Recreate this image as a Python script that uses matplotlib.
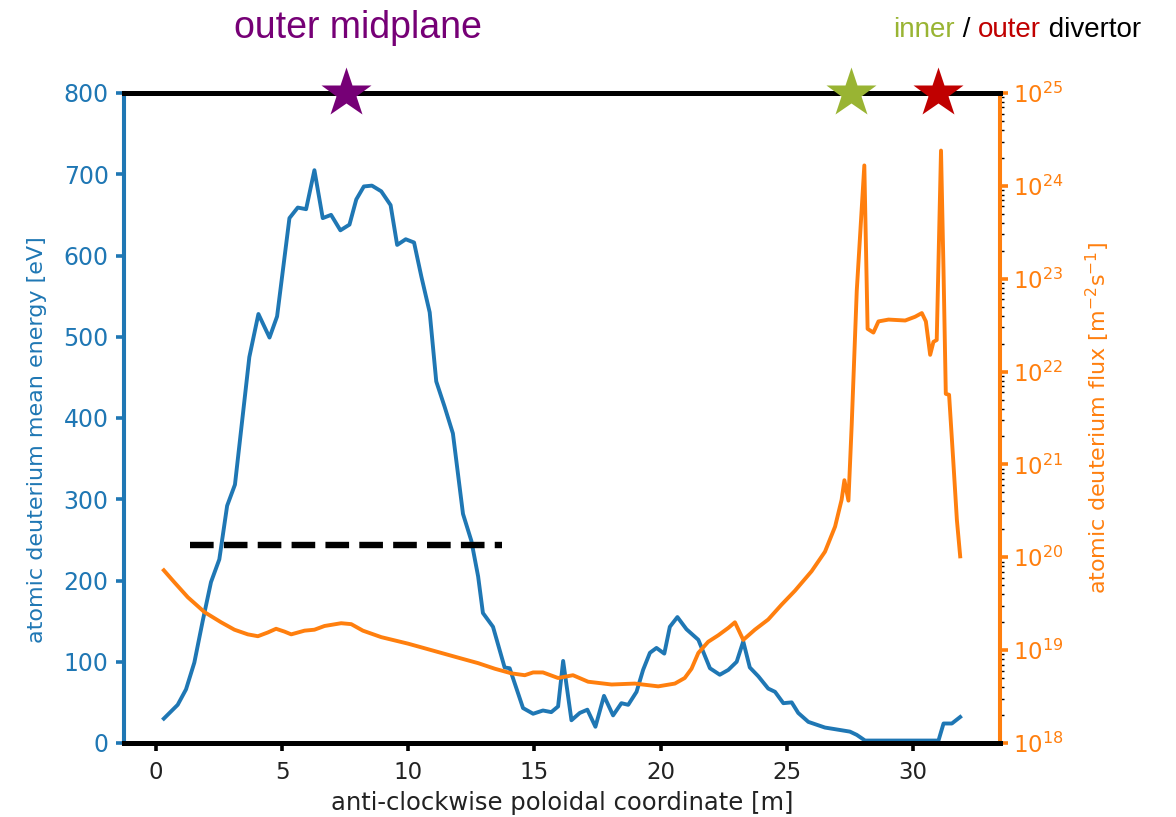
import numpy as np
import matplotlib
matplotlib.use("Agg")
import matplotlib.pyplot as plt
from matplotlib.ticker import LogLocator, NullFormatter

plt.rcParams["font.family"] = ["DejaVu Sans"]

# Mean energy of atomic deuterium along the wall [eV]
energy_s = [0.31, 0.86, 1.19, 1.52, 1.85, 2.18, 2.51, 2.82, 3.13, 3.70, 4.06, 4.50,
            4.80, 5.29, 5.62, 5.95, 6.28, 6.61, 6.94, 7.31, 7.67, 7.94, 8.24, 8.56,
            8.93, 9.30, 9.56, 9.90, 10.23, 10.52, 10.85, 11.11, 11.44, 11.77, 12.17,
            12.50, 12.77, 12.96, 13.36, 13.82, 14.02, 14.55, 14.95, 15.34, 15.67,
            15.94, 16.14, 16.47, 16.80, 17.10, 17.42, 17.76, 18.12, 18.45, 18.72,
            19.05, 19.31, 19.58, 19.84, 20.15, 20.37, 20.67, 21.03, 21.50, 21.96,
            22.35, 22.69, 23.02, 23.28, 23.54, 23.88, 24.27, 24.54, 24.87, 25.20,
            25.46, 25.86, 26.52, 26.92, 27.51, 27.78, 28.11, 31.02, 31.22, 31.55, 31.88]
energy_eV = [30, 47, 66, 99, 150, 198, 226, 292, 318, 475, 528, 499,
             525, 646, 659, 657, 705, 646, 650, 631, 638, 669, 685, 686,
             679, 662, 613, 620, 616, 574, 530, 445, 414, 381, 282,
             249, 205, 160, 143, 93, 92, 43, 36, 40, 38,
             45, 101, 28, 37, 41, 20, 58, 34, 49, 47,
             63, 90, 111, 117, 110, 143, 155, 140, 127, 92,
             84, 90, 100, 125, 93, 82, 67, 63, 49, 50,
             37, 26, 19, 17, 14, 10, 3, 3, 24, 24, 32]

# Atomic deuterium flux along the wall, log10 of [m^-2 s^-1]
flux_s = [0.31, 0.73, 1.26, 1.92, 2.58, 3.11, 3.64, 4.04, 4.43, 4.76, 5.09, 5.36,
          5.89, 6.28, 6.68, 7.34, 7.74, 8.20, 8.93, 9.99, 10.52, 11.31, 12.10,
          12.77, 13.43, 14.09, 14.62, 14.95, 15.34, 15.94, 16.53, 17.13, 18.06,
          18.98, 19.91, 20.57, 20.96, 21.23, 21.50, 21.89, 22.29, 22.69, 22.95,
          23.28, 23.74, 24.27, 24.80, 25.33, 25.99, 26.52, 26.92, 27.18, 27.29,
          27.45, 27.58, 27.78, 28.08, 28.21, 28.44, 28.64, 29.04, 29.70, 30.09,
          30.36, 30.52, 30.69, 30.82, 30.95, 31.12, 31.22, 31.31, 31.44, 31.61,
          31.75, 31.88]
flux_log10 = [19.86, 19.73, 19.57, 19.41, 19.30, 19.22, 19.17, 19.15, 19.19, 19.23,
              19.20, 19.17, 19.21, 19.22, 19.26, 19.29, 19.28, 19.21, 19.14, 19.07,
              19.03, 18.97, 18.91, 18.86, 18.80, 18.75, 18.73, 18.76, 18.76, 18.70,
              18.73, 18.66, 18.63, 18.64, 18.61, 18.64, 18.70, 18.80, 18.97, 19.09,
              19.16, 19.24, 19.30, 19.11, 19.22, 19.33, 19.49, 19.64, 19.85, 20.06,
              20.33, 20.62, 20.83, 20.61, 21.43, 22.87, 24.22, 22.46, 22.42, 22.54,
              22.56, 22.55, 22.59, 22.63, 22.54, 22.18, 22.32, 22.34, 24.38, 23.08,
              21.76, 21.75, 21.02, 20.40, 20.01]

# Reference energy level
ref_level_eV = 244
ref_span = [1.35, 13.7]

# Strike point / midplane markers
marker_s = [7.54, 27.54, 30.99]
marker_colors = ["#760076", "#99b433", "#c00000"]

BLUE = "#1f77b4"
ORANGE = "#ff7f0e"

fig = plt.figure(figsize=(11.76, 8.17), dpi=100)
ax = fig.add_axes([124 / 1176, 1 - 743 / 817, 876 / 1176, 650 / 817])
ax2 = ax.twinx()

ax.plot(energy_s, energy_eV, color=BLUE, lw=2.8, zorder=3)
ax.plot(ref_span, [ref_level_eV, ref_level_eV], color="black", ls="--", lw=4.6, zorder=4)
ax2.plot(flux_s, 10 ** np.array(flux_log10), color=ORANGE, lw=2.8)

ax.set_ylim(0, 800)
ax.set_yticks(range(0, 801, 100))
ax.set_xticks(range(0, 31, 5))
ax2.set_yscale("log")
ax2.set_ylim(1e18, 1e25)
ax2.yaxis.set_major_locator(LogLocator(base=10, numticks=20))
ax2.yaxis.set_minor_locator(LogLocator(base=10, subs=np.arange(2, 10), numticks=20))
ax2.yaxis.set_minor_formatter(NullFormatter())

for a in (ax, ax2):
    a.spines["top"].set_color("black")
    a.spines["bottom"].set_color("black")
    a.spines["top"].set_linewidth(3.6)
    a.spines["bottom"].set_linewidth(3.6)
    a.spines["left"].set_color(BLUE)
    a.spines["right"].set_color(ORANGE)
    a.spines["left"].set_linewidth(2.9)
    a.spines["right"].set_linewidth(2.9)
    a.xaxis.get_offset_text().set_visible(False)
    a.yaxis.get_offset_text().set_visible(False)

ax.tick_params(axis="y", colors=BLUE, labelsize=17, length=6, width=2.6, pad=5)
ax.tick_params(axis="x", colors="black", labelsize=16.5, length=6, width=2.6,
               labelcolor="#222222", pad=7)
ax2.tick_params(axis="y", which="major", colors=ORANGE, labelsize=16.5, length=6,
                width=2.6)
ax2.tick_params(axis="y", which="minor", color="black", length=3, width=1.0)

ax.set_ylabel("atomic deuterium mean energy [eV]", color=BLUE, fontsize=16)
ax.yaxis.set_label_coords(-0.088, 0.466)
ax2.set_ylabel(r"atomic deuterium flux [m$^{-2}$s$^{-1}$]", color=ORANGE, fontsize=16)
ax2.yaxis.set_label_coords(1.096, 0.5)
ax.set_xlabel("anti-clockwise poloidal coordinate [m]", color="#222222", fontsize=17.5,
              labelpad=5)

for s, c in zip(marker_s, marker_colors):
    ax2.plot([s], [1.0], marker="*", ms=38, color=c, mec="none",
             transform=ax2.get_xaxis_transform(), clip_on=False, zorder=10)

# Region captions above the axes
fig.text(358 / 1176, 1 - 38 / 817, "outer midplane", color="#760076", ha="center",
         va="baseline", family="Liberation Sans", fontsize=27)

fig.canvas.draw()
renderer = fig.canvas.get_renderer()
x_px = 893
for piece, col in [("inner", "#99b433"), (" / ", "black"), ("outer", "#c00000"),
                   (" divertor", "black")]:
    t = fig.text(x_px / 1176, 1 - 37 / 817, piece, color=col, ha="left", va="baseline",
                 family="Liberation Sans", fontsize=20)
    bb = t.get_window_extent(renderer=renderer)
    x_px += bb.width

fig.savefig("out.png", dpi=100)
